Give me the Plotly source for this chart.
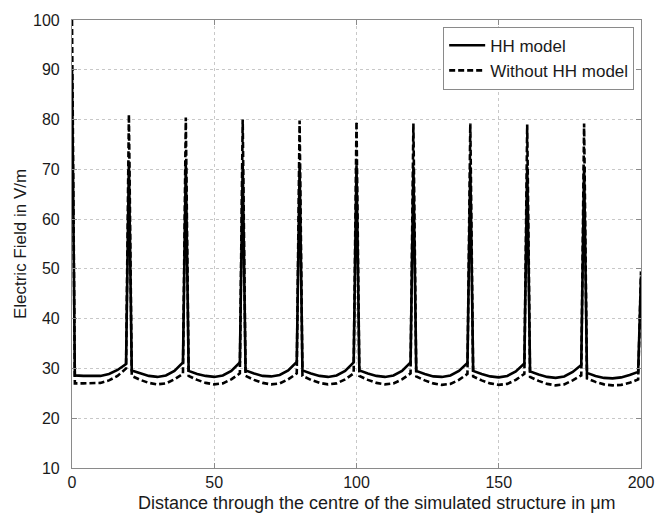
import plotly.graph_objects as go

# x positions (µm)
x_vals = [0, 1, 4, 7, 10, 13, 16, 19,
          20, 21, 24, 27, 30, 33, 36, 39,
          40, 41, 44, 47, 50, 53, 56, 59,
          60, 61, 64, 67, 70, 73, 76, 79,
          80, 81, 84, 87, 90, 93, 96, 99,
          100, 101, 104, 107, 110, 113, 116, 119,
          120, 121, 124, 127, 130, 133, 136, 139,
          140, 141, 144, 147, 150, 153, 156, 159,
          160, 161, 164, 167, 170, 173, 176, 179,
          180, 181, 184, 187, 190, 193, 196, 199,
          200]

hh_model = [90.0, 28.6, 28.5, 28.5, 28.5, 28.9, 29.7, 30.9,
            71.5, 29.6, 29.0, 28.5, 28.3, 28.6, 29.5, 31.2,
            71.0, 29.5, 28.9, 28.5, 28.3, 28.6, 29.5, 31.2,
            71.0, 29.6, 29.0, 28.5, 28.4, 28.7, 29.6, 31.3,
            70.8, 29.6, 29.0, 28.5, 28.3, 28.6, 29.5, 31.2,
            70.8, 29.6, 29.0, 28.5, 28.3, 28.6, 29.5, 31.2,
            70.5, 29.5, 28.9, 28.4, 28.3, 28.6, 29.5, 31.1,
            70.5, 29.5, 28.9, 28.4, 28.2, 28.5, 29.4, 31.0,
            70.5, 29.4, 28.8, 28.3, 28.1, 28.4, 29.3, 30.7,
            70.5, 29.1, 28.5, 28.1, 28.0, 28.2, 28.7, 29.3,
            48.5]

without_hh = [100.0, 27.0, 27.0, 27.0, 27.1, 27.6, 28.5, 30.0,
              81.0, 28.5, 27.7, 27.1, 26.8, 27.0, 27.8, 28.9,
              80.4, 28.5, 27.7, 27.1, 26.8, 27.0, 27.8, 29.0,
              80.0, 28.5, 27.7, 27.1, 26.8, 27.0, 27.8, 29.0,
              79.8, 28.5, 27.7, 27.1, 26.8, 27.0, 27.8, 29.0,
              79.6, 28.5, 27.7, 27.1, 26.8, 27.0, 27.8, 29.0,
              79.2, 28.4, 27.6, 27.0, 26.7, 26.9, 27.7, 28.9,
              79.2, 28.4, 27.6, 27.0, 26.7, 26.9, 27.7, 28.9,
              79.0, 28.3, 27.5, 26.9, 26.6, 26.8, 27.6, 28.6,
              79.2, 28.0, 27.3, 26.8, 26.6, 26.7, 27.1, 27.8,
              49.5]

x_ticks = [0, 50, 100, 150, 200]
y_ticks = [10, 20, 30, 40, 50, 60, 70, 80, 90, 100]

FONT = "Liberation Sans, Arial, sans-serif"
TXT = "#1a1a1a"

fig = go.Figure()
fig.add_trace(go.Scatter(x=x_vals, y=hh_model, mode="lines", name="HH model",
                         line=dict(color="black", width=2.6)))
fig.add_trace(go.Scatter(x=x_vals, y=without_hh, mode="lines", name="Without HH model",
                         line=dict(color="black", width=2.6, dash="6px,3px")))

axis_common = dict(showline=True, linecolor="#8a8a8a", linewidth=1.2, mirror="ticks",
                   ticks="inside", ticklen=5, tickcolor="#8a8a8a",
                   showgrid=True, gridcolor="#c8c8c8", griddash="dot", gridwidth=1,
                   zeroline=False, tickfont=dict(family=FONT, size=16, color=TXT))

fig.update_xaxes(range=[0, 200], tickvals=x_ticks, ticklabelstandoff=0, **axis_common)
fig.update_yaxes(range=[10, 100], tickvals=y_ticks, ticklabelstandoff=8,
                 title=dict(text="Electric Field in V/m", font=dict(family=FONT, size=17, color=TXT),
                            standoff=2),
                 **axis_common)

fig.add_annotation(text="Distance through the centre of the simulated structure in μm",
                   xref="paper", yref="paper", x=0.536, y=0, yshift=-35,
                   xanchor="center", yanchor="middle", showarrow=False,
                   font=dict(family=FONT, size=18, color=TXT))

fig.update_layout(
    width=666, height=514,
    margin=dict(l=72, r=17, t=18, b=46),
    paper_bgcolor="white", plot_bgcolor="white",
    showlegend=True,
    legend=dict(x=0.988, y=0.985, xanchor="right", yanchor="top",
                bgcolor="white", bordercolor="#8a8a8a", borderwidth=1,
                font=dict(family=FONT, size=17, color=TXT),
                tracegroupgap=0, itemwidth=36),
)

fig.write_html("out.html")
